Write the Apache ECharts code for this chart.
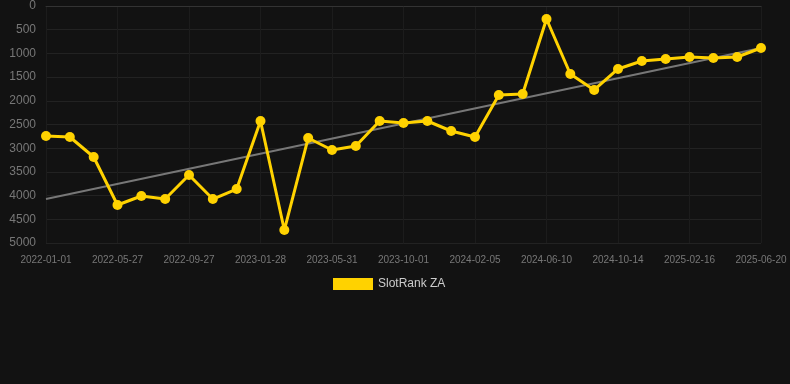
<!DOCTYPE html>
<html><head><meta charset="utf-8">
<script src="https://cdn.jsdelivr.net/npm/echarts@6/dist/echarts.min.js"></script>
<style>html,body{margin:0;padding:0;background:#121212;}#c{width:790px;height:384px;}</style>
</head><body><div id="c"></div>
<script>
const dates = ["2022-01-01","2022-02-19","2022-04-09","2022-05-27","2022-07-07","2022-08-17","2022-09-27","2022-11-07","2022-12-18","2023-01-28","2023-03-10","2023-04-20","2023-05-31","2023-07-11","2023-08-21","2023-10-01","2023-11-12","2023-12-24","2024-02-05","2024-03-17","2024-04-29","2024-06-10","2024-07-21","2024-09-01","2024-10-14","2024-11-24","2025-01-05","2025-02-16","2025-03-29","2025-05-09","2025-06-20"];
const rankZA = [2743,2764,3186,4198,4008,4072,3565,4072,3861,2426,4726,2785,3038,2954,2426,2468,2426,2637,2764,1878,1857,274,1435,1772,1329,1160,1118,1076,1097,1076,886];
const trendStart = 4070;
const trendEnd = 886;
const yTicks = [0,500,1000,1500,2000,2500,3000,3500,4000,4500,5000];

const trend = dates.map((d,i)=> i===0 ? trendStart : (i===dates.length-1 ? trendEnd : null));

const chart = echarts.init(document.getElementById('c'));
chart.setOption({
  backgroundColor:'#121212',
  animation:false,
  grid:{left:46,right:29,top:6,bottom:141},
  legend:{
    data:[{name:'SlotRank ZA',icon:'rect'}],
    top:273,left:328,itemWidth:40,itemHeight:12,itemGap:10,
    textStyle:{color:'#cccccc',fontSize:12,fontFamily:'Liberation Sans, Arial, sans-serif'}
  },
  xAxis:{
    type:'category',data:dates,boundaryGap:false,
    axisLine:{show:true,lineStyle:{color:'#333'}},
    axisTick:{show:false},
    axisLabel:{interval:2,color:'#777',fontSize:10,margin:12,fontFamily:'Liberation Sans, Arial, sans-serif'},
    splitLine:{show:true,interval:2,lineStyle:{color:'#1c1c1c'}}
  },
  yAxis:{
    type:'value',inverse:true,min:yTicks[0],max:yTicks[yTicks.length-1],interval:500,
    axisLine:{show:false},axisTick:{show:false},
    axisLabel:{color:'#777',fontSize:12,margin:10,fontFamily:'Liberation Sans, Arial, sans-serif',formatter:v=>String(v)},
    splitLine:{lineStyle:{color:'#222'}}
  },
  series:[
    {name:'SlotRank ZA',type:'line',data:rankZA,color:'#FFD200',
     lineStyle:{width:3,color:'#FFD200'},symbol:'circle',symbolSize:10,
     itemStyle:{color:'#FFD200'},z:3},
    {name:'trend',type:'line',data:trend,connectNulls:true,symbol:'none',
     lineStyle:{width:2,color:'#777'},z:2,silent:true}
  ]
});
</script></body></html>
